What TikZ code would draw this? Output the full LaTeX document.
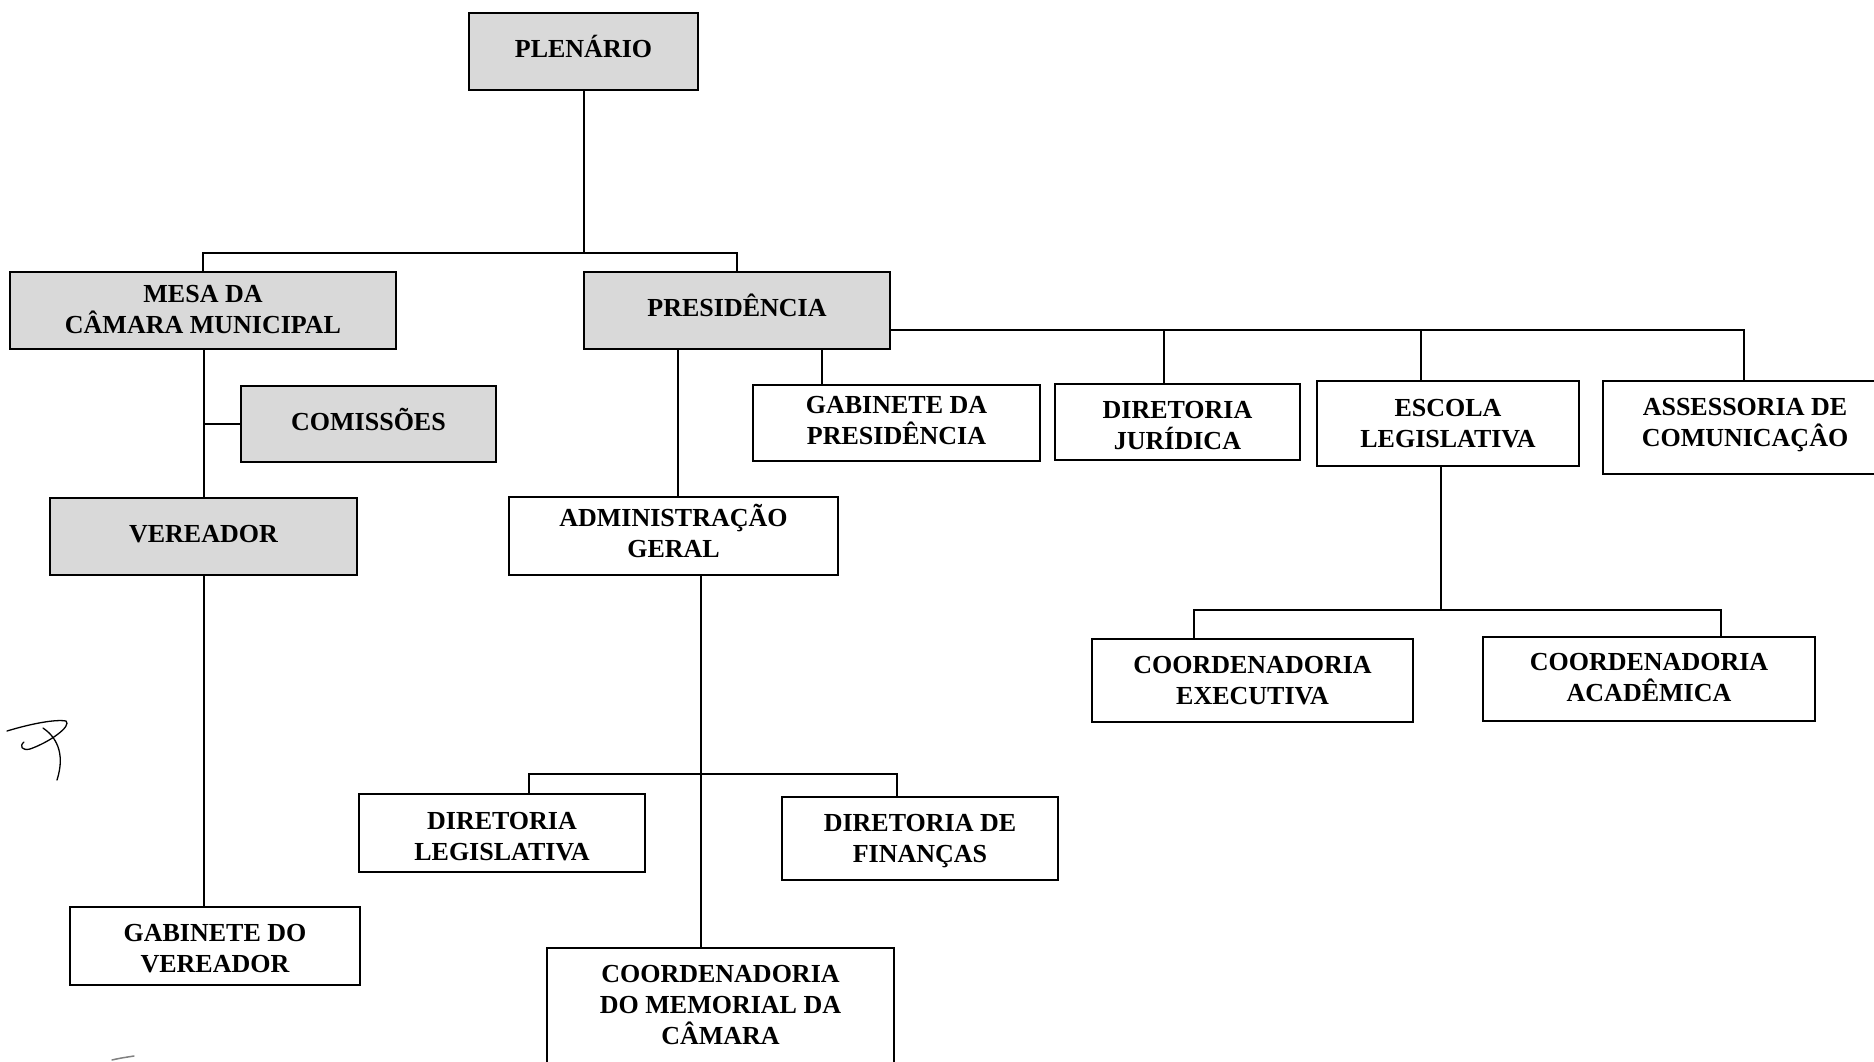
\documentclass[tikz,border=0pt]{standalone}
\usepackage{fontspec}
\setmainfont{Liberation Serif}
\definecolor{boxgray}{HTML}{D9D9D9}
\begin{document}
\begin{tikzpicture}[x=1pt,y=-1pt,
  box/.style={draw=black, line width=1.6pt, rectangle, inner sep=0pt, fill=white},
  gbox/.style={box, fill=boxgray},
  tlab/.style={align=center, inner sep=0pt, font=\fontsize{26}{31}\selectfont\bfseries},
  txt/.style 2 args={label={[tlab, yshift=#1]center:#2}},
  conn/.style={draw=black, line width=1.6pt}]
\useasboundingbox (0,0) rectangle (1874,1061);
% gray boxes
\node[gbox, minimum width=229pt, minimum height=77pt, txt={5pt}{PLENÁRIO}] (plen) at (583.5,51.5) {};
\node[gbox, minimum width=386pt, minimum height=77pt, txt={1pt}{MESA DA\\CÂMARA MUNICIPAL}] (mesa) at (203,310.5) {};
\node[gbox, minimum width=306pt, minimum height=77pt, txt={5pt}{PRESIDÊNCIA}] (pres) at (737,310.5) {};
\node[gbox, minimum width=255pt, minimum height=76pt, txt={5pt}{COMISSÕES}] (comis) at (368.5,424) {};
\node[gbox, minimum width=307pt, minimum height=77pt, txt={2.5pt}{VEREADOR}] (vere) at (203.5,536.5) {};
% white boxes
\node[box, minimum width=290pt, minimum height=78pt, txt={-2.5pt}{GABINETE DO\\VEREADOR}] (gabv) at (215,946) {};
\node[box, minimum width=329pt, minimum height=78pt, txt={5pt}{ADMINISTRAÇÃO\\GERAL}] (admin) at (673.5,536) {};
\node[box, minimum width=287pt, minimum height=76pt, txt={2.5pt}{GABINETE DA\\PRESIDÊNCIA}] (gabp) at (896.5,423) {};
\node[box, minimum width=245pt, minimum height=76pt, txt={-3.5pt}{DIRETORIA\\JURÍDICA}] (djur) at (1177.5,422) {};
\node[box, minimum width=262pt, minimum height=85pt, txt={0pt}{ESCOLA\\LEGISLATIVA}] (escola) at (1448,423.5) {};
\node[box, minimum width=284pt, minimum height=93pt, txt={2.5pt}{ASSESSORIA DE\\COMUNICAÇÂO}] (asses) at (1745,427.5) {};
\node[box, minimum width=321pt, minimum height=83pt, txt={0pt}{COORDENADORIA\\EXECUTIVA}] (cexec) at (1252.5,680.5) {};
\node[box, minimum width=332pt, minimum height=84pt, txt={1pt}{COORDENADORIA\\ACADÊMICA}] (cacad) at (1649,679) {};
\node[box, minimum width=286pt, minimum height=78pt, txt={-3.5pt}{DIRETORIA\\LEGISLATIVA}] (dleg) at (502,833) {};
\node[box, minimum width=276pt, minimum height=83pt, txt={-2.5pt}{DIRETORIA DE\\FINANÇAS}] (dfin) at (920,838.5) {};
\node[box, minimum width=347pt, minimum height=116pt, txt={1pt}{COORDENADORIA\\DO MEMORIAL DA\\CÂMARA}] (cmem) at (720.5,1006) {};
% connectors
\coordinate (bar1) at (584,253);
\draw[conn] (plen.south -| bar1) -- (bar1);
\draw[conn] (mesa.north) |- (bar1) -| (pres.north);
\draw[conn] (mesa.south -| 204,0) -- (vere.north -| 204,0);
\draw[conn] (comis.west) -- (comis.west -| 204,0);
\draw[conn] (vere.south -| 204,0) -- (gabv.north -| 204,0);
\draw[conn] (pres.south -| 678,0) -- (admin.north -| 678,0);
\draw[conn] (pres.south -| 822,0) -- (gabp.north -| 822,0);
\coordinate (rbar) at (1744,330);
\draw[conn] (pres.east |- rbar) -- (rbar) -- (asses.north -| rbar);
\draw[conn] (djur.north -| 1164,0) -- (1164,330);
\draw[conn] (escola.north -| 1421,0) -- (1421,330);
\coordinate (ebar) at (1441,610);
\draw[conn] (escola.south -| ebar) -- (ebar);
\draw[conn] (cexec.north -| 1194,0) |- (ebar) -| (cacad.north -| 1721,0);
\coordinate (abar) at (701,774);
\draw[conn] (admin.south -| abar) -- (cmem.north -| abar);
\draw[conn] (dleg.north -| 529,0) |- (abar) -| (dfin.north -| 897,0);
% handwritten marks
\draw[line width=1.3pt, line cap=round] (7,731) .. controls (30,724) and (55,719) .. (66,721)
  .. controls (72,726) and (50,742) .. (30,749) .. controls (22,751) and (19,746) .. (24,742);
\draw[line width=1.3pt, line cap=round] (43,728) .. controls (55,736) and (66,752) .. (57,780);
\draw[line width=1.5pt, line cap=round, gray] (112,1060) .. controls (120,1058) and (128,1057) .. (134,1056);
\end{tikzpicture}
\end{document}
